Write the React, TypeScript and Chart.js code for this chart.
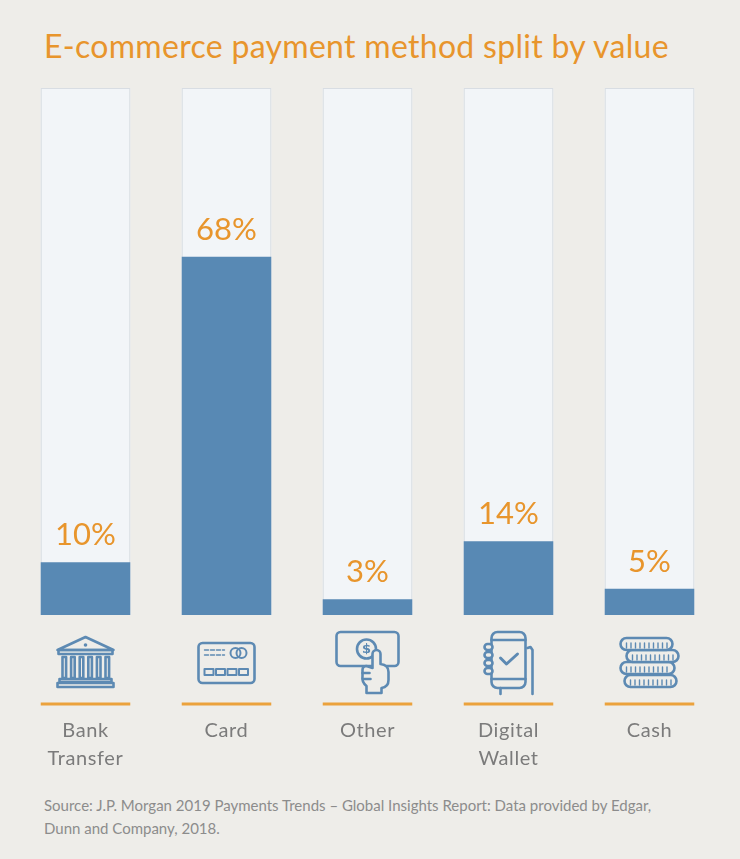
import { useEffect, useRef } from "react"
import { Chart, registerables } from "chart.js"

Chart.register(...registerables)

const categories = ["Bank Transfer", "Card", "Other", "Digital Wallet", "Cash"]
const shares = [10, 68, 3, 14, 5]
const icons = ["bank", "card", "hand", "phone", "coins"]
const axisMax = 100

const ORANGE = "#e8952c"
const BLUE = "#5889b4"
const ICON = "#5d8ab3"
const BG = "#eeede9"

function drawIcon(ctx: CanvasRenderingContext2D, kind: string, cx: number, cy: number) {
  ctx.save()
  ctx.strokeStyle = ICON
  ctx.fillStyle = ICON
  ctx.lineWidth = 2.6
  ctx.lineJoin = "round"
  ctx.lineCap = "round"

  if (kind === "bank") {
    ctx.beginPath()
    ctx.moveTo(cx - 28, cy - 12)
    ctx.lineTo(cx, cy - 25)
    ctx.lineTo(cx + 28, cy - 12)
    ctx.closePath()
    ctx.stroke()
    ctx.beginPath()
    ctx.arc(cx, cy - 17, 1.8, 0, Math.PI * 2)
    ctx.fill()
    ctx.strokeRect(cx - 27, cy - 12, 54, 4)
    for (let i = 0; i < 6; i++) {
      ctx.strokeRect(cx - 23 + i * 8.6, cy - 5, 3.6, 21)
    }
    ctx.strokeRect(cx - 26, cy + 17, 52, 3)
    ctx.strokeRect(cx - 28, cy + 21, 56, 4)
  }

  if (kind === "card") {
    ctx.beginPath()
    ctx.roundRect(cx - 28, cy - 19, 56, 40, 4)
    ctx.stroke()
    ctx.lineWidth = 1.4
    ctx.setLineDash([4, 2])
    ctx.beginPath()
    ctx.moveTo(cx - 22, cy - 12)
    ctx.lineTo(cx - 2, cy - 12)
    ctx.moveTo(cx - 22, cy - 7)
    ctx.lineTo(cx - 2, cy - 7)
    ctx.stroke()
    ctx.setLineDash([])
    ctx.lineWidth = 2
    ctx.beginPath()
    ctx.arc(cx + 9, cy - 9, 5, 0, Math.PI * 2)
    ctx.stroke()
    ctx.beginPath()
    ctx.arc(cx + 15, cy - 9, 5, 0, Math.PI * 2)
    ctx.stroke()
    for (let i = 0; i < 4; i++) {
      ctx.strokeRect(cx - 22 + i * 11.5, cy + 7, 9, 6)
    }
  }

  if (kind === "hand") {
    ctx.beginPath()
    ctx.roundRect(cx - 31, cy - 30, 62, 34, 4)
    ctx.stroke()
    ctx.beginPath()
    ctx.arc(cx - 1, cy - 13, 9.5, 0, Math.PI * 2)
    ctx.stroke()
    ctx.font = "bold 13px 'DejaVu Sans'"
    ctx.textAlign = "center"
    ctx.textBaseline = "middle"
    ctx.fillText("$", cx - 1, cy - 12)
    // hand pointing up
    ctx.beginPath()
    ctx.moveTo(cx + 5, cy + 6)
    ctx.lineTo(cx + 5, cy - 8)
    ctx.arc(cx + 9, cy - 8, 4, Math.PI, 0)
    ctx.lineTo(cx + 13, cy + 2)
    ctx.quadraticCurveTo(cx + 21, cy + 3, cx + 21, cy + 10)
    ctx.lineTo(cx + 21, cy + 18)
    ctx.quadraticCurveTo(cx + 21, cy + 25, cx + 14, cy + 26)
    ctx.lineTo(cx + 14, cy + 31)
    ctx.lineTo(cx - 1, cy + 31)
    ctx.lineTo(cx - 1, cy + 24)
    ctx.quadraticCurveTo(cx - 6, cy + 20, cx - 5, cy + 14)
    ctx.lineTo(cx - 5, cy + 8)
    ctx.quadraticCurveTo(cx - 5, cy + 4, cx - 1, cy + 4)
    ctx.lineTo(cx + 5, cy + 6)
    ctx.fillStyle = BG
    ctx.fill()
    ctx.stroke()
    ctx.beginPath()
    ctx.moveTo(cx - 5, cy + 11)
    ctx.lineTo(cx + 2, cy + 11)
    ctx.moveTo(cx - 4, cy + 17)
    ctx.lineTo(cx + 3, cy + 17)
    ctx.stroke()
  }

  if (kind === "phone") {
    ctx.beginPath()
    ctx.roundRect(cx - 17, cy - 30, 34, 56, 6)
    ctx.stroke()
    ctx.beginPath()
    ctx.moveTo(cx - 17, cy - 22)
    ctx.lineTo(cx + 17, cy - 22)
    ctx.moveTo(cx - 17, cy + 17)
    ctx.lineTo(cx + 17, cy + 17)
    ctx.stroke()
    ctx.lineWidth = 3
    ctx.beginPath()
    ctx.moveTo(cx - 8, cy - 4)
    ctx.lineTo(cx - 2, cy + 2)
    ctx.lineTo(cx + 9, cy - 8)
    ctx.stroke()
    ctx.lineWidth = 2.6
    for (let i = 0; i < 4; i++) {
      ctx.beginPath()
      ctx.roundRect(cx - 24, cy - 18 + i * 8, 8, 6, 3)
      ctx.fillStyle = BG
      ctx.fill()
      ctx.stroke()
    }
    ctx.beginPath()
    ctx.moveTo(cx + 19, cy - 14)
    ctx.lineTo(cx + 22, cy - 15)
    ctx.lineTo(cx + 24, cy - 12)
    ctx.lineTo(cx + 24, cy + 32)
    ctx.moveTo(cx - 8, cy + 26)
    ctx.lineTo(cx - 8, cy + 32)
    ctx.stroke()
  }

  if (kind === "coins") {
    const stack = [
      [-25, 13, 52],
      [-29, 0, 54],
      [-23, -12, 52],
      [-29, -24, 52],
    ]
    for (const [dx, dy, w] of stack) {
      const x = cx + dx
      const y = cy + dy
      ctx.beginPath()
      ctx.roundRect(x, y, w, 12, 6)
      ctx.fillStyle = BG
      ctx.fill()
      ctx.stroke()
      ctx.lineWidth = 1.4
      ctx.beginPath()
      for (let rx = x + 6; rx < x + w - 5; rx += 4.5) {
        ctx.moveTo(rx, y + 5)
        ctx.lineTo(rx, y + 10)
      }
      ctx.stroke()
      ctx.lineWidth = 2.6
    }
  }

  ctx.restore()
}

const decorPlugin = {
  id: "decor",
  beforeDatasetsDraw(chart: Chart) {
    const { ctx, chartArea, scales } = chart
    const top = scales.y.getPixelForValue(axisMax)
    chart.getDatasetMeta(0).data.forEach((bar: any) => {
      const { x, width } = bar.getProps(["x", "width"], true)
      ctx.save()
      ctx.fillStyle = "#f2f5f8"
      ctx.strokeStyle = "#d8dde3"
      ctx.lineWidth = 1
      ctx.fillRect(x - width / 2, top, width, chartArea.bottom - top)
      ctx.strokeRect(x - width / 2 + 0.5, top + 0.5, width - 1, chartArea.bottom - top - 1)
      ctx.restore()
    })
  },
  afterDatasetsDraw(chart: Chart) {
    const { ctx, chartArea } = chart
    chart.getDatasetMeta(0).data.forEach((bar: any, i: number) => {
      const { x, y, width } = bar.getProps(["x", "y", "width"], true)
      ctx.save()
      ctx.fillStyle = ORANGE
      ctx.font = "31px Lato"
      ctx.textAlign = "center"
      ctx.textBaseline = "alphabetic"
      ctx.fillText(`${shares[i]}%`, x, y - 17)

      // orange rule under the icon
      ctx.strokeStyle = "#eba23c"
      ctx.lineWidth = 3
      ctx.beginPath()
      ctx.moveTo(x - width / 2, chartArea.bottom + 89)
      ctx.lineTo(x + width / 2, chartArea.bottom + 89)
      ctx.stroke()

      // category name, one word per line
      ctx.fillStyle = "#7b7b7b"
      ctx.font = "20px Lato"
      ;(ctx as any).letterSpacing = "0.6px"
      ctx.textBaseline = "middle"
      categories[i].split(" ").forEach((word, line) => {
        ctx.fillText(word, x, chartArea.bottom + 116 + line * 28)
      })
      ctx.restore()

      drawIcon(ctx, icons[i], x, chartArea.bottom + 47)
    })
  },
}

export default function App() {
  const chartRef = useRef<HTMLCanvasElement>(null)
  const chartInstance = useRef<Chart | null>(null)

  useEffect(() => {
    document.body.style.margin = "0"
    document.body.style.background = BG
    if (!chartRef.current) return

    if (chartInstance.current) {
      chartInstance.current.destroy()
    }

    const ctx = chartRef.current.getContext("2d")
    if (!ctx) return

    chartInstance.current = new Chart(ctx, {
      type: "bar",
      data: {
        labels: categories,
        datasets: [
          {
            data: shares,
            backgroundColor: BLUE,
            borderWidth: 0,
            barPercentage: 0.635,
            categoryPercentage: 1,
          },
        ],
      },
      options: {
        animation: false,
        responsive: true,
        maintainAspectRatio: false,
        layout: {
          padding: { left: 15, right: 20, top: 8, bottom: 158 },
        },
        plugins: {
          legend: { display: false },
          tooltip: { enabled: false },
        },
        scales: {
          x: { display: false },
          y: {
            display: false,
            min: 0,
            max: axisMax,
          },
        },
      },
      plugins: [decorPlugin],
    })

    return () => {
      if (chartInstance.current) {
        chartInstance.current.destroy()
        chartInstance.current = null
      }
    }
  }, [])

  return (
    <div style={{ position: "relative", width: 740, height: 859, background: BG, fontFamily: "Lato" }}>
      <h1
        style={{
          position: "absolute",
          left: 44,
          top: 28,
          margin: 0,
          fontSize: 32,
          lineHeight: "36px",
          letterSpacing: "0.3px",
          fontWeight: 400,
          color: ORANGE,
          whiteSpace: "nowrap",
        }}
      >
        E-commerce payment method split by value
      </h1>
      <div style={{ position: "absolute", left: 0, top: 80, width: 740, height: 693 }}>
        <canvas ref={chartRef}></canvas>
      </div>
      <p
        style={{
          position: "absolute",
          left: 44,
          top: 794,
          margin: 0,
          fontSize: 15,
          lineHeight: "23px",
          color: "#8c8c8c",
          whiteSpace: "nowrap",
        }}
      >
        Source: J.P. Morgan 2019 Payments Trends – Global Insights Report: Data provided by Edgar,
        <br />
        Dunn and Company, 2018.
      </p>
    </div>
  )
}
